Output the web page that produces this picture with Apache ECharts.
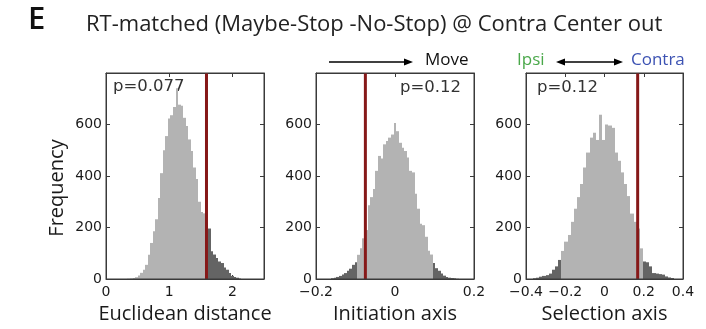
<!DOCTYPE html>
<html><head><meta charset="utf-8">
<script src="https://cdn.jsdelivr.net/npm/echarts@6/dist/echarts.min.js"></script>
<style>html,body{margin:0;padding:0;background:#fff}#c{width:706px;height:329px}</style>
</head><body><div id="c"></div>
<script>
// ---- data ----
const panelTitle = 'RT-matched (Maybe-Stop -No-Stop) @ Contra Center out';
const panelLetter = 'E';
const xNames = ['Euclidean distance', 'Initiation axis', 'Selection axis'];
const yName = 'Frequency';
const pLabels = ['p=0.077', 'p=0.12', 'p=0.12'];

const binStart1 = 0.34, binWidth1 = 0.04;
const counts1 = [1,2,4,7,14,24,36,55,94,140,185,232,315,411,500,555,623,636,668,741,677,673,626,594,542,497,433,388,300,260,255,220,196,108,95,82,68,62,45,36,23,12,8,5,2];
const binStart2 = -0.1617, binWidth2 = 0.0066;
const counts2 = [3,5,8,12,17,23,32,40,55,65,94,119,158,190,286,318,350,420,478,468,523,536,549,561,606,574,529,510,497,472,420,414,331,273,215,209,164,110,95,62,42,32,21,13,8,5,4,3,1];
const binStart3 = -0.364, binWidth3 = 0.016;
const counts3 = [3,5,9,12,15,21,36,49,74,109,145,171,222,273,318,369,433,491,549,568,540,638,540,600,596,587,491,459,414,369,322,254,222,196,119,68,65,49,23,21,19,17,10,6,4];

// observed statistic (red line) and shaded-tail limits
const observed = [1.59, -0.075, 0.169];
const tailLo = [-Infinity, -0.095, -0.22];
const tailHi = [1.61, 0.095, 0.196];

const xMin = [0, -0.2, -0.4], xMax = [2.5, 0.2, 0.4], xStep = [1, 0.2, 0.2];
const yMin = 0, yMax = 800, yStep = 200;

// ---- styles / layout ----
const LIGHT = '#b3b3b3', DARK = '#646464', RED = '#861818', AX = '#3a3a3a';
const gridBox = {show: true, borderColor: AX, borderWidth: 1, backgroundColor: 'rgba(0,0,0,0)', z: 10};
const grids = [
  Object.assign({left: 106, top: 73, width: 158, height: 208}, gridBox),
  Object.assign({left: 316, top: 73, width: 158, height: 208}, gridBox),
  Object.assign({left: 526, top: 73, width: 157, height: 208}, gridBox)
];
const tickFont = {fontFamily: 'DejaVu Sans', fontSize: 14, color: '#1a1a1a'};
const nameFont = {fontFamily: 'Open Sans', fontSize: 20, color: '#1a1a1a'};

const bins = [[binStart1, binWidth1, counts1], [binStart2, binWidth2, counts2], [binStart3, binWidth3, counts3]];

function fmt(v) {
  const r = parseFloat(Number(v).toFixed(3));
  return r < 0 ? '\u2212' + Math.abs(r) : String(r);
}

const axLine = () => ({show: true, onZero: false, lineStyle: {color: AX, width: 1}});
const axTick = () => ({show: true, inside: true, length: 4, lineStyle: {color: AX}});

const xAxis = [], yAxis = [], series = [];
for (let i = 0; i < 3; i++) {
  xAxis.push({
    gridIndex: i, type: 'value', min: xMin[i], max: xMax[i], interval: xStep[i], position: 'bottom',
    axisLine: axLine(), axisTick: axTick(), splitLine: {show: false},
    axisLabel: Object.assign({margin: 6, formatter: fmt, showMaxLabel: i !== 0}, tickFont),
    name: xNames[i], nameLocation: 'middle', nameGap: 25, nameTextStyle: nameFont
  });
  yAxis.push({
    gridIndex: i, type: 'value', min: yMin, max: yMax, interval: yStep, position: 'left',
    axisLine: axLine(), axisTick: axTick(), splitLine: {show: false},
    axisLabel: Object.assign({margin: 4, showMaxLabel: false}, tickFont)
  });
}
for (let i = 0; i < 3; i++) {
  xAxis.push({
    gridIndex: i, type: 'value', min: xMin[i], max: xMax[i], interval: xStep[i], position: 'top',
    axisLine: axLine(), axisTick: axTick(), axisLabel: {show: false}, splitLine: {show: false}
  });
  yAxis.push({
    gridIndex: i, type: 'value', min: yMin, max: yMax, interval: yStep, position: 'right',
    axisLine: axLine(), axisTick: axTick(), axisLabel: {show: false}, splitLine: {show: false}
  });
}

for (let i = 0; i < 3; i++) {
  const [start, w, counts] = bins[i];
  const data = counts.map((c, k) => {
    const x0 = start + k * w, x1 = x0 + w, mid = (x0 + x1) / 2;
    const dark = mid < tailLo[i] || mid > tailHi[i];
    return {value: [x0, x1, c], itemStyle: {color: dark ? DARK : LIGHT}};
  });
  series.push({
    type: 'custom', xAxisIndex: i, yAxisIndex: i, silent: true,
    encode: {x: [0, 1], y: 2},
    renderItem: function (params, api) {
      const p0 = api.coord([api.value(0), 0]);
      const p1 = api.coord([api.value(1), api.value(2)]);
      const xa = Math.round(p0[0]), xb = Math.round(p1[0]);
      return {
        type: 'rect',
        shape: {x: xa, y: p1[1], width: Math.max(1, xb - xa), height: p0[1] - p1[1]},
        style: {fill: api.visual('color'), stroke: null, lineWidth: 0}
      };
    },
    data: data
  });
  series.push({
    type: 'line', xAxisIndex: i, yAxisIndex: i, silent: true, symbol: 'none',
    lineStyle: {color: RED, width: 3},
    data: [[observed[i], yMin], [observed[i], yMax]],
    z: 5
  });
}

const textStyle = (t, x, y, font, color, size, align, weight) => ({
  type: 'text', x: x, y: y,
  style: {text: t, fill: color || '#222', font: (weight || 'normal') + ' ' + (size || 16) + 'px ' + font, align: align || 'left', verticalAlign: 'middle'}
});

function arrowHead(x, y, dir) {
  return {type: 'polygon', shape: {points: [[x, y], [x - dir * 9, y - 3.5], [x - dir * 9, y + 3.5]]}, style: {fill: '#000'}};
}

const graphic = [
  textStyle(panelLetter, 28, 20, '"Open Sans"', '#111', 31, 'left', '600'),
  textStyle(panelTitle, 86, 25, '"Open Sans"', '#222', 22, 'left'),
  Object.assign(textStyle(yName, 57, 188, '"Open Sans"', '#1a1a1a', 20, 'center'), {rotation: Math.PI / 2}),
  textStyle(pLabels[0], 113, 87, '"DejaVu Sans"', '#333', 16.5, 'left'),
  textStyle(pLabels[1], 400, 88, '"DejaVu Sans"', '#333', 16.5, 'left'),
  textStyle(pLabels[2], 537, 88, '"DejaVu Sans"', '#333', 16.5, 'left'),
  {type: 'line', shape: {x1: 329, y1: 62, x2: 406, y2: 62}, style: {stroke: '#000', lineWidth: 1.6}},
  arrowHead(413, 62, 1),
  textStyle('Move', 425, 60, '"Open Sans"', '#111', 17, 'left'),
  textStyle('Ipsi', 517, 60, '"Open Sans"', '#4aa84a', 17, 'left'),
  {type: 'line', shape: {x1: 563, y1: 62, x2: 616, y2: 62}, style: {stroke: '#000', lineWidth: 1.6}},
  arrowHead(556, 62, -1),
  arrowHead(623, 62, 1),
  textStyle('Contra', 631, 60, '"Open Sans"', '#3d53b3', 17, 'left')
];

const chart = echarts.init(document.getElementById('c'), null, {renderer: 'canvas'});
chart.setOption({
  animation: false,
  backgroundColor: '#fff',
  grid: grids,
  xAxis: xAxis,
  yAxis: yAxis,
  series: series,
  graphic: graphic
});
</script></body></html>
